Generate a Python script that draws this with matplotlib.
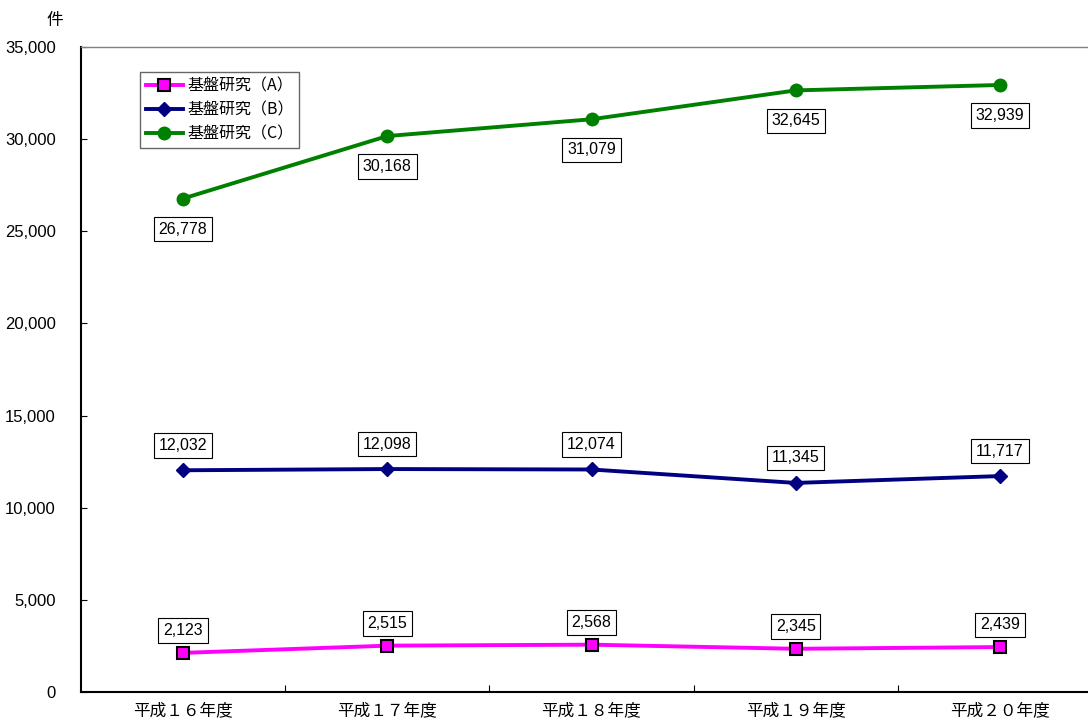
import matplotlib as mpl
import matplotlib.pyplot as plt
from matplotlib.ticker import FuncFormatter

mpl.rcParams['font.family'] = ['Liberation Sans', 'Noto Sans CJK JP']

# データ
years = ['平成１６年度', '平成１７年度', '平成１８年度', '平成１９年度', '平成２０年度']
kiban_a = [2123, 2515, 2568, 2345, 2439]
kiban_b = [12032, 12098, 12074, 11345, 11717]
kiban_c = [26778, 30168, 31079, 32645, 32939]

fig = plt.figure(figsize=(10.88, 7.22), dpi=100)
ax = fig.add_axes([81 / 1088, 30 / 722, 1021 / 1088, 645 / 722])

x = list(range(len(years)))
series = [
    ('基盤研究（A）', kiban_a, '#FF00FF', 's', 9, 16),
    ('基盤研究（B）', kiban_b, '#000080', 'D', 7, 18),
    ('基盤研究（C）', kiban_c, '#008000', 'o', 9, -22),
]

for name, vals, col, mk, ms, dy in series:
    ax.plot(x, vals, color=col, lw=2.8, marker=mk, markersize=ms,
            markerfacecolor=col, markeredgecolor='black' if mk == 's' else col,
            markeredgewidth=1.5 if mk == 's' else 1, label=name, zorder=3)
    for xi, v in zip(x, vals):
        ax.annotate(f'{v:,}', (xi, v), xytext=(0, dy), textcoords='offset points',
                    ha='center', va='center', fontsize=11.5,
                    bbox=dict(boxstyle='square,pad=0.3', fc='white', ec='black', lw=0.8))

ax.set_xlim(-0.5, 4.5)
ax.set_ylim(0, 35000)
ax.set_yticks(range(0, 35001, 5000))
ax.yaxis.set_major_formatter(FuncFormatter(lambda v, p: f'{int(v):,}'))
ax.set_xticks([i + 0.5 for i in range(4)])
ax.set_xticklabels([])
ax.set_xticks(x, minor=True)
ax.set_xticklabels(years, minor=True, fontsize=12, family=['Noto Sans CJK JP'])
ax.tick_params(axis='x', which='minor', length=0, pad=7)
ax.tick_params(axis='x', which='major', direction='in', length=5)
ax.tick_params(axis='y', direction='in', length=4, labelsize=12, pad=18)

ax.spines['left'].set_linewidth(1.5)
ax.spines['bottom'].set_linewidth(1.5)
ax.spines['top'].set_color('#808080')
ax.spines['top'].set_linewidth(1)
ax.spines['right'].set_visible(False)

leg = ax.legend(loc='upper left', bbox_to_anchor=(0.058, 0.962),
                frameon=True, fancybox=False, edgecolor='#404040',
                handlelength=2.3, handletextpad=0.3, borderpad=0.35, labelspacing=0.45,
                borderaxespad=0, prop={'family': ['Noto Sans CJK JP'], 'size': 11.5})
leg.get_frame().set_linewidth(1)

fig.text(55 / 1088, 1 - 20 / 722, '件', ha='center', va='center', fontsize=12,
         family=['Noto Sans CJK JP'])

fig.savefig('out.png', dpi=100)
